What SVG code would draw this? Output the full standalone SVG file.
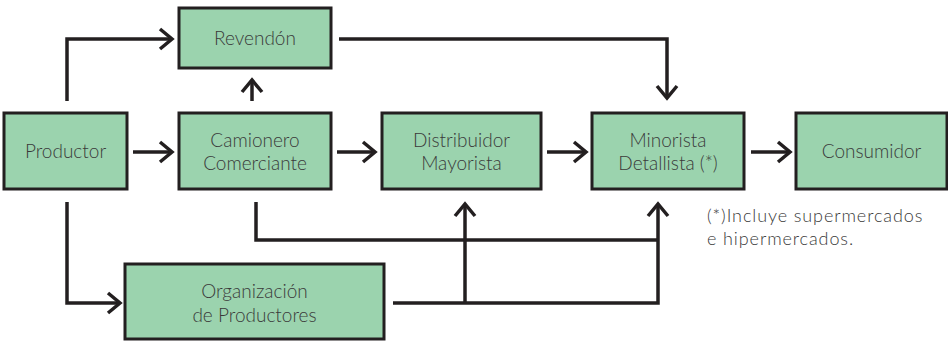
<svg xmlns="http://www.w3.org/2000/svg" width="948" height="342" viewBox="0 0 948 342">
<style>
.box{fill:#9bd3ae;stroke:#231f20;stroke-width:3}
.lbl{font-family:Lato,"Open Sans","Liberation Sans",sans-serif;font-weight:300;font-size:19px;fill:#3a3a3a;text-anchor:middle}
.note{font-family:Lato,"Open Sans","Liberation Sans",sans-serif;font-weight:300;font-size:18px;letter-spacing:0.9px;fill:#3a3a3a}
.con{fill:none;stroke:#231f20;stroke-width:3.5;stroke-linejoin:miter}
.arr{marker-end:url(#ah)}
</style>
<defs>
<marker id="ah" markerUnits="userSpaceOnUse" markerWidth="20" markerHeight="26" refX="13" refY="11" orient="auto" overflow="visible">
<path d="M1,1 L13,11 L1,21" fill="none" stroke="#231f20" stroke-width="3.5"/>
</marker>
</defs>
<rect width="948" height="342" fill="#fff"/>
<g id="connectors">
<polyline class="con arr" points="67,101 67,39 172,39"/>
<polyline class="con arr" points="339,39 667,39 667,98"/>
<line class="con arr" x1="252" y1="101" x2="252" y2="80"/>
<line class="con arr" x1="133" y1="152" x2="172" y2="152"/>
<line class="con arr" x1="337" y1="152" x2="375" y2="152"/>
<line class="con arr" x1="547" y1="152" x2="586" y2="152"/>
<line class="con arr" x1="751" y1="152" x2="790" y2="152"/>
<polyline class="con arr" points="67,202 67,303 120,303"/>
<polyline class="con" points="256,202 256,240 658,240"/>
<polyline class="con arr" points="393,303 658,303 658,204"/>
<line class="con arr" x1="465" y1="303" x2="465" y2="204"/>
</g>
<g id="revendon">
<rect class="box" x="179" y="8" width="152" height="60"/>
<text class="lbl" x="255" y="45">Revendón</text>
</g>
<g id="productor">
<rect class="box" x="4" y="113" width="123" height="76"/>
<text class="lbl" x="65.5" y="158">Productor</text>
</g>
<g id="camionero">
<rect class="box" x="179" y="113" width="152" height="76"/>
<text class="lbl" x="255" y="147">Camionero</text>
<text class="lbl" x="255" y="170">Comerciante</text>
</g>
<g id="distribuidor">
<rect class="box" x="382" y="113" width="159" height="76"/>
<text class="lbl" x="461.5" y="147">Distribuidor</text>
<text class="lbl" x="461.5" y="170">Mayorista</text>
</g>
<g id="minorista">
<rect class="box" x="592" y="113" width="152" height="76"/>
<text class="lbl" x="668" y="147">Minorista</text>
<text class="lbl" x="668" y="170">Detallista (*)</text>
</g>
<g id="consumidor">
<rect class="box" x="796" y="113" width="151" height="76"/>
<text class="lbl" x="871.5" y="158">Consumidor</text>
</g>
<g id="organizacion">
<rect class="box" x="125" y="264" width="259" height="75"/>
<text class="lbl" x="254.5" y="298">Organización</text>
<text class="lbl" x="254.5" y="322">de Productores</text>
</g>
<g id="nota">
<text class="note" x="707" y="222">(*)Incluye supermercados</text>
<text class="note" x="707" y="245">e hipermercados.</text>
</g>
</svg>
